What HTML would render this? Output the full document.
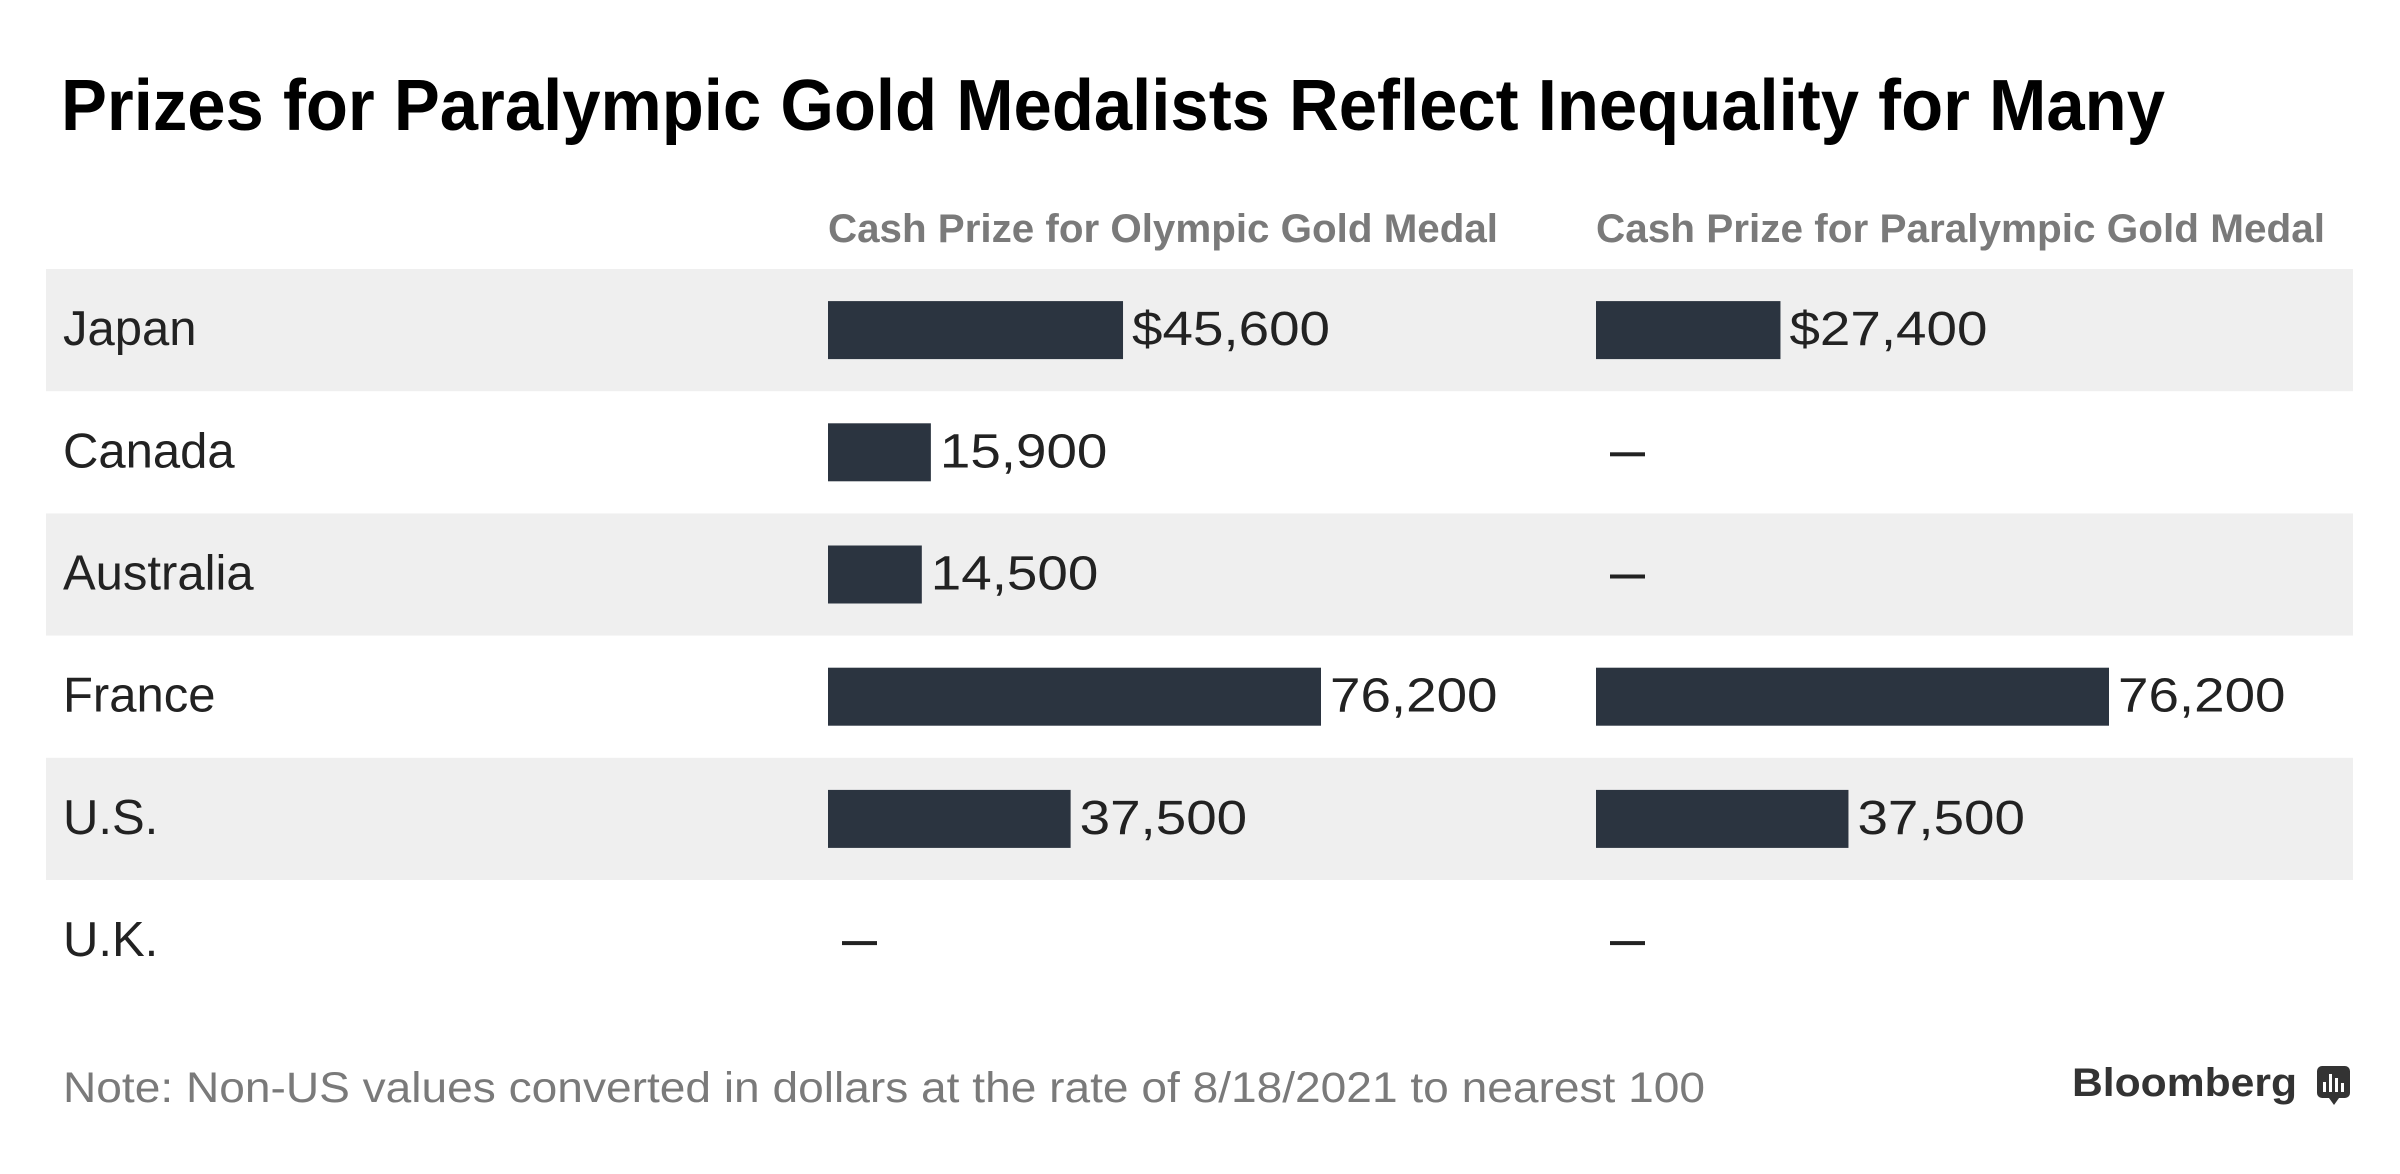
<!DOCTYPE html>
<html><head><meta charset="utf-8"><style>
html,body{margin:0;padding:0;background:#fff;}
svg{display:block;font-family:"Liberation Sans",sans-serif;}
</style></head><body>
<svg id="chart" width="2400" height="1174" viewBox="0 0 2400 1174">
  <text x="61" y="130" font-size="72" font-weight="bold" fill="#000" textLength="2104" lengthAdjust="spacingAndGlyphs">Prizes for Paralympic Gold Medalists Reflect Inequality for Many</text>
  <text x="828" y="242" font-size="40" font-weight="bold" fill="#7a7a7a" textLength="670" lengthAdjust="spacingAndGlyphs">Cash Prize for Olympic Gold Medal</text>
  <text x="1596" y="242" font-size="40" font-weight="bold" fill="#7a7a7a" textLength="729" lengthAdjust="spacingAndGlyphs">Cash Prize for Paralympic Gold Medal</text>
  <g id="rows"></g>
  <text x="63" y="1102" font-size="43" fill="#7a7a7a" textLength="1642" lengthAdjust="spacingAndGlyphs">Note: Non-US values converted in dollars at the rate of 8/18/2021 to nearest 100</text>
  <text x="2072" y="1096" font-size="40" font-weight="bold" fill="#333" textLength="225" lengthAdjust="spacingAndGlyphs">Bloomberg</text>
  <g>
    <rect x="2317" y="1066" width="33" height="32" rx="5" fill="#333"/>
    <path d="M2329 1098 L2334 1105 L2339 1098 Z" fill="#333"/>
    <rect x="2323" y="1082" width="3" height="10" fill="#fff"/>
    <rect x="2329" y="1074" width="3" height="18" fill="#fff"/>
    <rect x="2335" y="1078" width="3" height="14" fill="#fff"/>
    <rect x="2341" y="1083" width="3" height="9" fill="#fff"/>
  </g>
</svg>
<script>
const countries = ["Japan","Canada","Australia","France","U.S.","U.K."];
const olympicValues = [45600, 15900, 14500, 76200, 37500, null];
const paralympicValues = [27400, null, null, 76200, 37500, null];
const olympicLabels = ["$45,600","15,900","14,500","76,200","37,500",""];
const paralympicLabels = ["$27,400","","","76,200","37,500",""];

const NS = "http://www.w3.org/2000/svg";
const g = document.getElementById("rows");
const rowTop = 269, rowH = 122.2, barH = 58;
const col1X = 828, col2X = 1596;
const xScale1 = v => v * 493 / 76200;
const xScale2 = v => v * 513 / 76200;
function labelLen(s){let w=0;for(const c of s){w+= (c===","?15:30.5);}return w;}
function mk(tag, attrs){const e=document.createElementNS(NS,tag);for(const k in attrs)e.setAttribute(k,attrs[k]);g.appendChild(e);return e;}

countries.forEach((c,i)=>{
  const y0 = rowTop + i*rowH, cy = y0 + rowH/2;
  if(i%2===0){
    const band = mk("rect",{x:46,y:y0,width:2307,height:rowH,fill:"#efefef"});
    
    
  }
  const lab = mk("text",{x:63,y:cy+15,"font-size":49,fill:"#222"});
  lab.textContent = c;
  
  
  [[olympicValues,olympicLabels,col1X,xScale1,'olympic'],[paralympicValues,paralympicLabels,col2X,xScale2,'paralympic']].forEach(([vals,labs,x0,sc,nm])=>{
    const v = vals[i];
    if(v===null){
      const d = mk("rect",{x:x0+14,y:cy,width:35,height:4,fill:"#222"});
      
      
      return;
    }
    const w = sc(v);
    const b = mk("rect",{x:x0,y:cy-barH/2,width:w,height:barH,fill:"#2b3440"});
    
    
    const t = mk("text",{x:x0+w+9,y:cy+15,"font-size":48,fill:"#222",textLength:labelLen(labs[i]),lengthAdjust:"spacingAndGlyphs"});
    t.textContent = labs[i];
    
    
  });
});
</script>
</body></html>
